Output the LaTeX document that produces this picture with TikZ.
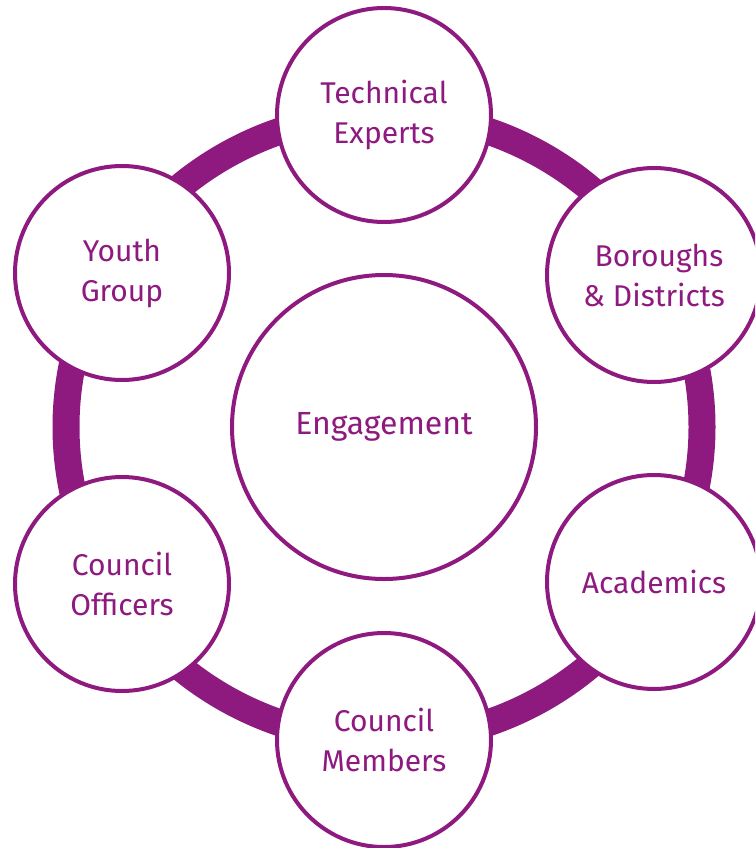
\documentclass[tikz,border=0pt]{standalone}
\usepackage{fontspec}
\setmainfont{Fira Sans}
\definecolor{morado}{HTML}{8E1A80}

\begin{document}
\begin{tikzpicture}[x=1pt,y=-1pt]
    \tikzset{Grupo/.style = {shape=circle,draw=morado,fill=white,line width=4pt,minimum size=214pt,inner sep=0pt,align=center,text=morado,font=\fontsize{30}{40}\selectfont}}
    \tikzset{Centro/.style = {Grupo,minimum size=304pt,font=\fontsize{32}{40}\selectfont}}
    \tikzset{anillo/.style = {draw=morado,line width=27pt}}

    \useasboundingbox (0,0) rectangle (755,848);
    \clip (0,0) rectangle (755,848);

    %Anillo de fondo
    \coordinate (medio) at (384,427);
    \draw [anillo] (medio) circle [x radius=318,y radius=313];

    \node[Centro] (engagement) at (medio) {Engagement};

    \node[Grupo] (tecnicos) at (384,115) {Technical\\Experts};
    \node[Grupo] (distritos) at (654,275) {\hspace*{10pt}Boroughs\\\& Districts};
    \node[Grupo] (academicos) at (654,582) {Academics};
    \node[Grupo] (miembros) at (384,740) {Council\\Members};
    \node[Grupo] (oficiales) at (122,584) {Council\\Officers};
    \node[Grupo] (jovenes) at (122,273) {Youth\\Group};

\end{tikzpicture}
\end{document}
